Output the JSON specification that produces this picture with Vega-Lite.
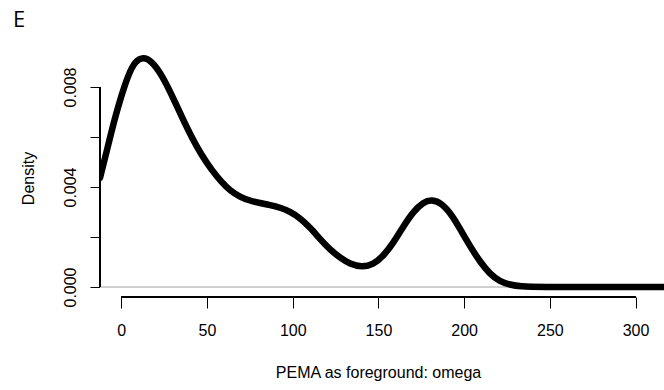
{
  "$schema": "https://vega.github.io/schema/vega-lite/v6.json",
  "autosize": {"type": "none"},
  "padding": {"left": 100, "top": 40, "right": 0, "bottom": 93},
  "width": 564,
  "height": 257,
  "background": "white",
  "config": {"view": {"stroke": null}, "font": "Liberation Sans"},
  "title": {"text": "E", "anchor": "start", "frame": "group", "dx": -87, "dy": 23, "offset": 14, "baseline": "alphabetic", "font": "Open Sans", "fontSize": 22, "fontWeight": "normal", "color": "black"},
  "data": {"values": [
    {"x": -12.4, "y": 0.00437},
    {"x": -7.6, "y": 0.00569},
    {"x": -3.7, "y": 0.00677},
    {"x": 0.2, "y": 0.00769},
    {"x": 4.1, "y": 0.00849},
    {"x": 8.0, "y": 0.00903},
    {"x": 12.8, "y": 0.00921},
    {"x": 17.7, "y": 0.00904},
    {"x": 23.6, "y": 0.00849},
    {"x": 29.4, "y": 0.00769},
    {"x": 35.2, "y": 0.00682},
    {"x": 41.1, "y": 0.00598},
    {"x": 46.9, "y": 0.00527},
    {"x": 52.7, "y": 0.00468},
    {"x": 58.6, "y": 0.00419},
    {"x": 63.4, "y": 0.00386},
    {"x": 69.3, "y": 0.00360},
    {"x": 75.1, "y": 0.00345},
    {"x": 80.9, "y": 0.00336},
    {"x": 86.8, "y": 0.00328},
    {"x": 92.6, "y": 0.00318},
    {"x": 98.4, "y": 0.00302},
    {"x": 104.2, "y": 0.00276},
    {"x": 110.1, "y": 0.00238},
    {"x": 115.9, "y": 0.00192},
    {"x": 121.7, "y": 0.00150},
    {"x": 127.6, "y": 0.00117},
    {"x": 133.4, "y": 0.00092},
    {"x": 140.3, "y": 0.00079},
    {"x": 147.0, "y": 0.00090},
    {"x": 152.9, "y": 0.00124},
    {"x": 158.7, "y": 0.00176},
    {"x": 164.5, "y": 0.00242},
    {"x": 170.4, "y": 0.00302},
    {"x": 176.2, "y": 0.00340},
    {"x": 181.3, "y": 0.00350},
    {"x": 186.9, "y": 0.00335},
    {"x": 192.8, "y": 0.00289},
    {"x": 198.5, "y": 0.00222},
    {"x": 204.0, "y": 0.00157},
    {"x": 209.3, "y": 0.00101},
    {"x": 215.1, "y": 0.00051},
    {"x": 220.9, "y": 0.00022},
    {"x": 226.8, "y": 0.00009},
    {"x": 232.6, "y": 0.00002},
    {"x": 244.3, "y": 0.0},
    {"x": 280.0, "y": 0.0},
    {"x": 316.6, "y": 0.0}
  ]},
  "layer": [
    {
      "mark": {"type": "rule", "color": "#cfcfcf", "strokeWidth": 1},
      "encoding": {"y": {"datum": 0, "type": "quantitative"}}
    },
    {
      "mark": {"type": "line", "color": "black", "strokeWidth": 6.5, "interpolate": "basis", "strokeCap": "round", "strokeJoin": "round", "clip": true},
      "encoding": {
        "x": {
          "field": "x", "type": "quantitative",
          "scale": {"domain": [-12.43, 316.6], "nice": false, "zero": false},
          "axis": {
            "title": "PEMA as foreground: omega",
            "values": [0, 50, 100, 150, 200, 250, 300],
            "domain": false, "grid": false,
            "tickSize": 11, "tickColor": "black", "tickWidth": 1,
            "labelFont": "Liberation Sans", "labelFontSize": 16, "labelColor": "black", "labelPadding": 14,
            "labelFlush": false, "labelOverlap": false,
            "titleFont": "Liberation Sans", "titleFontSize": 16, "titleFontWeight": "normal", "titleColor": "black", "titlePadding": 26, "titleX": 278
          }
        },
        "y": {
          "field": "y", "type": "quantitative",
          "scale": {"domain": [-0.0004, 0.00988], "nice": false, "zero": false},
          "axis": {
            "title": "Density",
            "values": [0, 0.002, 0.004, 0.006, 0.008],
            "labelExpr": "round(datum.value * 1000) % 4 == 0 ? format(datum.value, '.3f') : ''",
            "domain": false, "grid": false,
            "tickSize": 10, "tickColor": "black", "tickWidth": 1,
            "labelAngle": -90, "labelAlign": "center", "labelBaseline": "alphabetic", "labelPadding": 15,
            "labelFont": "Liberation Sans", "labelFontSize": 16, "labelColor": "black",
            "labelFlush": false, "labelOverlap": false,
            "titleFont": "Liberation Sans", "titleFontSize": 16, "titleFontWeight": "normal", "titleColor": "black",
            "titleAngle": -90, "titleBaseline": "alphabetic", "titleAlign": "center", "titleX": -67, "titleY": 138
          }
        }
      }
    },
    {
      "mark": {"type": "rule", "color": "black", "strokeWidth": 1},
      "encoding": {
        "x": {"datum": 0, "type": "quantitative"},
        "x2": {"datum": 300},
        "y": {"datum": -0.0004, "type": "quantitative"}
      }
    },
    {
      "mark": {"type": "rule", "color": "black", "strokeWidth": 1},
      "encoding": {
        "x": {"datum": -12.43, "type": "quantitative"},
        "y": {"datum": 0, "type": "quantitative"},
        "y2": {"datum": 0.008}
      }
    }
  ]
}
